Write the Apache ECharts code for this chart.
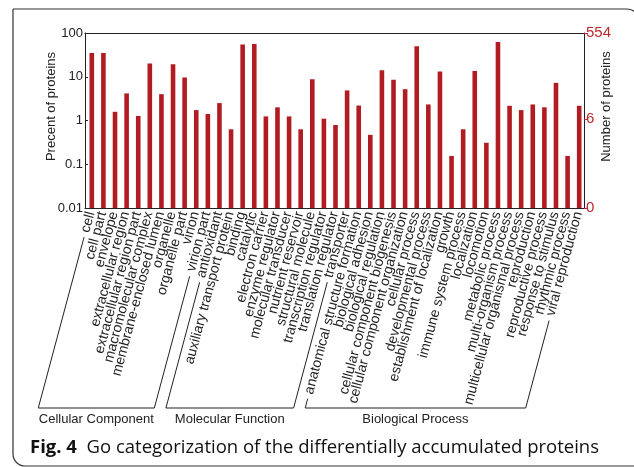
<!DOCTYPE html>
<html>
<head>
<meta charset="utf-8">
<script src="https://cdn.jsdelivr.net/npm/echarts@6/dist/echarts.min.js"></script>
<style>
  html, body { margin: 0; padding: 0; background: #fff; }
  #chart { width: 634px; height: 467px; }
</style>
</head>
<body>
<div id="chart"></div>
<script>
// GO terms, grouped by ontology
const cellularComponent = [
  'cell', 'cell part', 'envelope', 'extracellular region', 'extracellular region part',
  'macromolecular complex', 'membrane-enclosed lumen', 'organelle', 'organelle part',
  'virion', 'virion part'
];
const molecularFunction = [
  'antioxidant', 'auxiliary transport protein', 'binding', 'catalytic', 'electron carrier',
  'enzyme regulator', 'molecular transducer', 'nutrient reservoir', 'structural molecule',
  'transcription regulator', 'translation regulator', 'transporter'
];
const biologicalProcess = [
  'anatomical structure formation', 'biological adhesion', 'biological regulation',
  'cellular component biogenesis', 'cellular component organization', 'cellular process',
  'developmental process', 'establishment of localization', 'growth', 'immune system process',
  'localization', 'locomotion', 'metabolic process', 'multi-organism process',
  'multicellular organismal process', 'reproduction', 'reproductive process',
  'response to stimulus', 'rhythmic process', 'viral reproduction'
];

// Percent of proteins per term
const ccPercent = [35, 35, 1.58, 4.16, 1.27, 20.0, 4.0, 19.4, 9.6, 1.73, 1.41];
const mfPercent = [2.5, 0.63, 54.4, 56, 1.24, 2.0, 1.24, 0.63, 8.8, 1.1, 0.79, 4.87];
const bpPercent = [2.2, 0.47, 14.1, 8.5, 5.2, 49.8, 2.33, 13.2, 0.155, 0.63, 13.6, 0.31,
                   62.4, 2.17, 1.73, 2.33, 2.0, 7.26, 0.155, 2.17];

const groupNames = ['Cellular Component', 'Molecular Function', 'Biological Process'];
const groups = [cellularComponent, molecularFunction, biologicalProcess];

// Left axis (percent, log) and right axis (protein count) labels
const percentMin = 0.01;
const percentMax = 100;
const totalProteins = 554;
const countTicks = [0, 6, 554];

const categories = [].concat(cellularComponent, molecularFunction, biologicalProcess);
const percents = [].concat(ccPercent, mfPercent, bpPercent);

// Right axis is laid out in decades above the percent minimum
function countToDecade(n) {
  if (n <= 0) return 0;
  return Math.log10((n / totalProteins * 100) / percentMin);
}
const decadeSpan = Math.log10(percentMax / percentMin);

const RED = '#c0282f';
const BAR = '#b01c22';
const INK = '#222';
const LABEL_FONT = '"Liberation Sans", Arial, sans-serif';
const LABEL_SIZE = 14;
const LABEL_ROTATE = 75;
const LABEL_MARGIN = 4;
const BRACKET_Y = 408;
const BAR_WIDTH = 4.6;
const BAR_SHIFT = 1;
// axis titles sit a little above the middle of the plot
const TITLE_STYLE = { fontSize: 13, color: INK, fontFamily: LABEL_FONT, padding: [0, 0, 0, 28] };

const chart = echarts.init(document.getElementById('chart'), null, { renderer: 'canvas' });

const option = {
  animation: false,
  backgroundColor: '#fff',
  textStyle: { fontFamily: LABEL_FONT },
  grid: { left: 85, right: 50, top: 33, height: 175, containLabel: false },
  xAxis: [
    {
      type: 'category',
      data: categories,
      position: 'bottom',
      axisLine: { lineStyle: { color: INK, width: 1 } },
      axisTick: { inside: true, length: 4, lineStyle: { color: INK } },
      axisLabel: {
        interval: 0, rotate: LABEL_ROTATE, margin: LABEL_MARGIN,
        fontSize: LABEL_SIZE, color: INK, fontFamily: LABEL_FONT
      },
      splitLine: { show: false }
    },
    {
      type: 'category',
      data: categories,
      position: 'top',
      axisLine: { lineStyle: { color: INK, width: 1 } },
      axisTick: { inside: true, length: 4, lineStyle: { color: INK } },
      axisLabel: { show: false },
      splitLine: { show: false }
    }
  ],
  yAxis: [
    {
      type: 'log',
      logBase: 10,
      min: percentMin,
      max: percentMax,
      position: 'left',
      name: 'Precent of proteins',
      nameLocation: 'middle',
      nameGap: 27,
      nameMoveOverlap: false,
      nameRotate: 90,
      nameTextStyle: TITLE_STYLE,
      axisLine: { show: true, lineStyle: { color: INK, width: 1 } },
      axisTick: { show: true, inside: true, length: 3, lineStyle: { color: INK } },
      axisLabel: {
        fontSize: 13, color: INK, margin: 2, fontFamily: LABEL_FONT,
        formatter: v => String(+v.toPrecision(3))
      },
      splitLine: { show: false }
    },
    {
      type: 'value',
      min: 0,
      max: decadeSpan,
      position: 'right',
      name: 'Number of proteins',
      nameLocation: 'middle',
      nameGap: 16,
      nameMoveOverlap: false,
      nameRotate: 90,
      nameTextStyle: TITLE_STYLE,
      axisLine: { show: true, lineStyle: { color: INK, width: 1 } },
      axisTick: {
        show: true, inside: false, length: 4,
        customValues: countTicks.map(countToDecade),
        lineStyle: { color: RED }
      },
      axisLabel: {
        fontSize: 15, color: RED, margin: 2, fontFamily: LABEL_FONT,
        customValues: countTicks.map(countToDecade),
        formatter: v => {
          let best = countTicks[0];
          countTicks.forEach(n => {
            if (Math.abs(countToDecade(n) - v) < Math.abs(countToDecade(best) - v)) best = n;
          });
          return String(best);
        }
      },
      splitLine: { show: false }
    }
  ],
  series: [
    {
      // Bars rise from the bottom of the log axis rather than from 1
      type: 'custom',
      xAxisIndex: 0,
      yAxisIndex: 0,
      data: percents.map((v, i) => [i, v]),
      encode: { x: 0, y: 1 },
      renderItem: (params, api) => {
        const i = api.value(0);
        const top = api.coord([i, api.value(1)]);
        const base = api.coord([i, percentMin]);
        return {
          type: 'rect',
          shape: {
            x: top[0] - BAR_WIDTH / 2 + BAR_SHIFT, y: top[1],
            width: BAR_WIDTH, height: base[1] - top[1]
          },
          style: { fill: BAR }
        };
      },
      silent: true
    }
  ]
};

chart.setOption(option);

// Group brackets under the rotated term labels, plus the figure frame and caption
const measure = document.createElement('canvas').getContext('2d');
measure.font = LABEL_SIZE + 'px ' + LABEL_FONT;
const theta = LABEL_ROTATE * Math.PI / 180;
const ux = -Math.cos(theta);
const uy = Math.sin(theta);
const axisY = chart.convertToPixel({ yAxisIndex: 0 }, percentMin);

function labelTail(index, gap) {
  const cx = chart.convertToPixel({ xAxisIndex: 0 }, index);
  const w = measure.measureText(categories[index]).width;
  const d = w + gap;
  return [cx + ux * d, axisY + LABEL_MARGIN + uy * d];
}
function dropTo(p, y) {
  const t = (y - p[1]) / uy;
  return [p[0] + ux * t, y];
}

const graphics = [];
let offset = 0;
groups.forEach((terms, gi) => {
  const first = labelTail(offset, 5);
  const last = labelTail(offset + terms.length - 1, 5);
  const a = dropTo(first, BRACKET_Y);
  const b = dropTo(last, BRACKET_Y);
  graphics.push({
    type: 'polyline',
    shape: { points: [first, a, b, last] },
    style: { stroke: INK, lineWidth: 1, fill: null },
    silent: true
  });
  graphics.push({
    type: 'text',
    x: (a[0] + b[0]) / 2,
    y: BRACKET_Y + 11,
    style: {
      text: groupNames[gi], fontSize: 13, fill: INK, fontFamily: LABEL_FONT,
      align: 'center', verticalAlign: 'middle'
    },
    silent: true
  });
  offset += terms.length;
});

graphics.push({
  type: 'rect',
  shape: { x: 13, y: 9, width: 626, height: 457, r: [0, 12, 0, 12] },
  style: { stroke: '#333', lineWidth: 1.2, fill: null },
  silent: true
});
graphics.push({
  type: 'text',
  x: 30,
  y: 448,
  style: {
    text: '{b|Fig. 4}  Go categorization of the differentially accumulated proteins',
    fontSize: 18.5, fill: '#111', fontFamily: '"Open Sans", "Noto Sans", sans-serif',
    verticalAlign: 'middle',
    rich: { b: { fontWeight: 'bold', fontSize: 18.5, fontFamily: '"Open Sans", "Noto Sans", sans-serif' } }
  },
  silent: true
});

chart.setOption({ graphic: graphics });
</script>
</body>
</html>
